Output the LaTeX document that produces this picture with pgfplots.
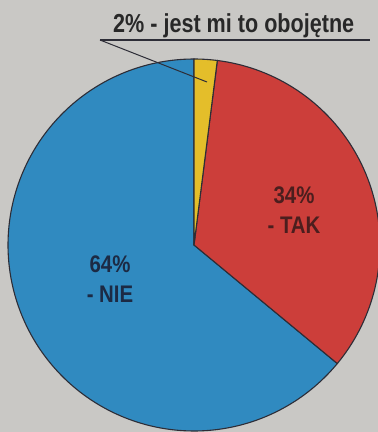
\documentclass[border=0pt]{standalone}
\usepackage{pgfplots}
\usepackage{pgfplotstable}
\usepackage{graphicx}
\usepackage{fontspec}
\setmainfont{Liberation Sans}
\pgfplotsset{compat=1.18}
\definecolor{bg}{RGB}{201,200,197}
\definecolor{pieblue}{RGB}{48,138,192}
\definecolor{piered}{RGB}{204,62,58}
\definecolor{pieyellow}{RGB}{228,190,42}
\definecolor{edge}{RGB}{45,45,55}
\definecolor{txt}{RGB}{40,40,40}
\definecolor{txtred}{RGB}{75,30,30}
\definecolor{txtblue}{RGB}{28,42,68}

\pgfplotstableread{
slice pct
obojetne 2
tak 34
nie 64
}\pietable
\def\cx{194}\def\cy{187}\def\rr{186}

\begin{document}%
\begin{tikzpicture}
\pgfplotstablegetelem{0}{pct}\of\pietable \pgfmathsetmacro{\pa}{\pgfplotsretval}
\pgfplotstablegetelem{1}{pct}\of\pietable \pgfmathsetmacro{\pb}{\pgfplotsretval}
\pgfplotstablegetelem{2}{pct}\of\pietable \pgfmathsetmacro{\pc}{\pgfplotsretval}
\pgfmathsetmacro{\aA}{90}
\pgfmathsetmacro{\aB}{\aA-3.6*\pa}
\pgfmathsetmacro{\aC}{\aB-3.6*\pb}
\pgfmathsetmacro{\aD}{\aC-3.6*\pc}
\fill[bg] (0,0) rectangle (378pt,432pt);
\begin{axis}[at={(0,0)}, anchor=south west, scale only axis,
  width=378pt, height=432pt, xmin=0, xmax=378, ymin=0, ymax=432,
  hide axis, clip=true]
\addplot[fill=pieblue, draw=edge, line width=1.1pt, domain=\aD:\aC, samples=160, variable=\t]
  ({\cx+\rr*cos(\t)},{\cy+\rr*sin(\t)}) -- (axis cs:\cx,\cy) -- cycle;
\addplot[fill=piered, draw=edge, line width=1.1pt, domain=\aC:\aB, samples=80, variable=\t]
  ({\cx+\rr*cos(\t)},{\cy+\rr*sin(\t)}) -- (axis cs:\cx,\cy) -- cycle;
\addplot[fill=pieyellow, draw=edge, line width=1.1pt, domain=\aB:\aA, samples=10, variable=\t]
  ({\cx+\rr*cos(\t)},{\cy+\rr*sin(\t)}) -- (axis cs:\cx,\cy) -- cycle;
\draw[edge, line width=1.1pt] (axis cs:100,392) -- (axis cs:370,392);
\draw[edge, line width=1pt] (axis cs:100,392) -- (axis cs:207,350);
\node[anchor=base west, inner sep=0pt, text=txt, font=\fontsize{26}{30}\selectfont\bfseries]
  at (axis cs:113,399) {\scalebox{0.83}[1]{2\% - jest mi to obojętne}};
\node[align=center, inner sep=0pt, text=txtred, font=\fontsize{24}{30}\selectfont\bfseries]
  at (axis cs:294,222) {\scalebox{0.85}[1]{34\%}\\\scalebox{0.85}[1]{- TAK}};
\node[align=center, inner sep=0pt, text=txtblue, font=\fontsize{24}{30}\selectfont\bfseries]
  at (axis cs:110,153) {\scalebox{0.85}[1]{64\%}\\\scalebox{0.85}[1]{- NIE}};
\end{axis}
\pgfresetboundingbox
\useasboundingbox (0,0) rectangle (378pt,432pt);
\end{tikzpicture}%
\end{document}
